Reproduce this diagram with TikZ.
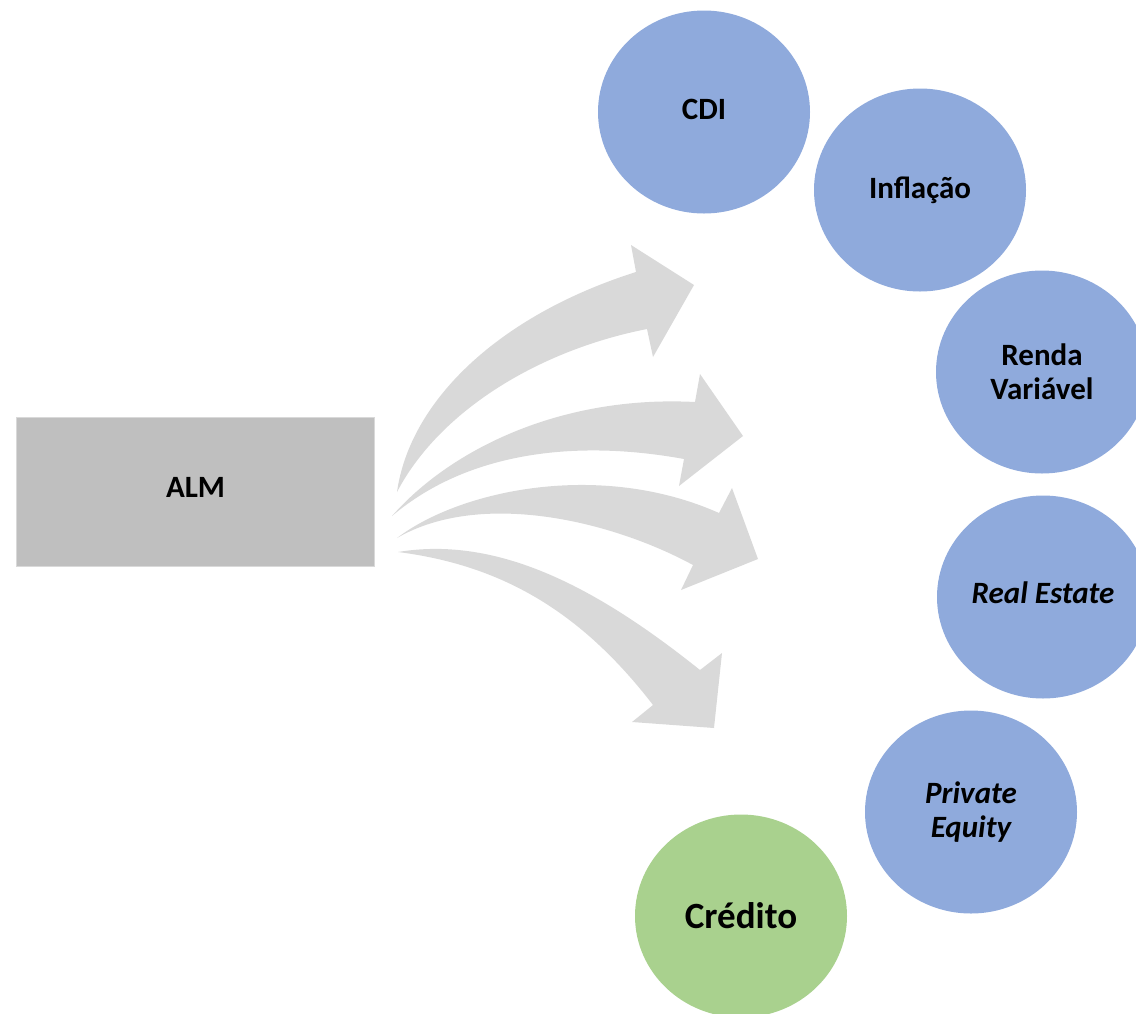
\documentclass[tikz,border=0pt]{standalone}
\usepackage{fontspec}
\setmainfont{Carlito}
\usetikzlibrary{shapes.geometric}

\definecolor{boxgray}{HTML}{BFBFBF}
\definecolor{boxedge}{HTML}{D9D9D9}
\definecolor{arrowgray}{HTML}{D9D9D9}
\definecolor{assetblue}{HTML}{8FAADC}
\definecolor{creditgreen}{HTML}{A9D18E}

\tikzset{
  asset/.style={ellipse, fill=assetblue, draw=none, minimum width=212pt,
    minimum height=203pt, inner sep=0pt, align=center,
    font=\fontsize{31}{34}\selectfont\bfseries},
  credit/.style={asset, fill=creditgreen, font=\fontsize{37}{40}\selectfont\bfseries},
  almbox/.style={rectangle, fill=boxgray, draw=boxedge, line width=1.2pt,
    minimum width=358pt, minimum height=149pt, inner sep=0pt, text depth=9pt,
    font=\fontsize{31}{34}\selectfont\bfseries},
  blockarrow/.style={fill=arrowgray, draw=none}
}

\begin{document}
\begin{tikzpicture}[x=1pt, y=-1pt]
  \useasboundingbox (0,0) rectangle (1136,1013);
  \clip (0,0) rectangle (1136,1013);

  % source box
  \node[almbox] (alm) at (195.5,492) {ALM};

  % asset classes
  \node[asset, text depth=6pt]  (cdi)    at (704,112) {CDI};
  \node[asset]  (infl)   at (920,190) {Inflação};
  \node[asset]  (renda)  at (1042,372) {Renda\\Variável};
  \node[asset, text depth=9pt]  (real)   at (1043,597) {\itshape Real Estate};
  \node[asset]  (pe)     at (971,812) {\itshape Private\\\itshape Equity};
  \node[credit] (cred)   at (741,916) {Crédito};

  % curved block arrows fanning out from the box
  \fill[blockarrow] (397,492) .. controls (410,400) and (500,315) .. (636,272)
    -- (631,245) -- (694,285) -- (653,357) -- (647,329)
    .. controls (540,350) and (440,410) .. (397,492) -- cycle;

  \fill[blockarrow] (392,516) .. controls (450,450) and (560,395) .. (695,402)
    -- (700,374) -- (743,436) -- (679,486) -- (684,459)
    .. controls (580,440) and (470,450) .. (392,516) -- cycle;

  \fill[blockarrow] (397,538) .. controls (460,490) and (600,460) .. (719,513)
    -- (732,488) -- (758,559) -- (681,590) -- (693,565)
    .. controls (610,520) and (480,490) .. (397,538) -- cycle;

  \fill[blockarrow] (398,552) .. controls (500,535) and (600,590) .. (700,670)
    -- (722,653) -- (714,728) -- (632,722) -- (653,705)
    .. controls (580,610) and (500,565) .. (398,552) -- cycle;
\end{tikzpicture}
\end{document}
